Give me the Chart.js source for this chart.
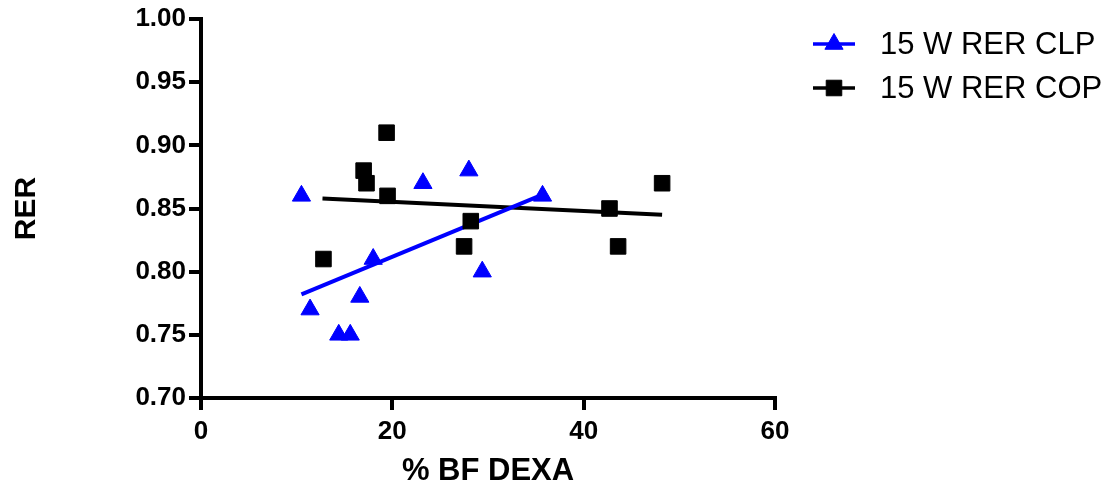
<!DOCTYPE html>
<html>
<head>
<meta charset="utf-8">
<script src="https://cdn.jsdelivr.net/npm/chart.js@4"></script>
<style>
  html, body { margin: 0; padding: 0; background: #fff; }
  #wrap { width: 1112px; height: 488px; position: relative; }
</style>
</head>
<body>
<div id="wrap"><canvas id="chart"></canvas></div>
<script>
// values
var clpX = [10.5, 11.4, 14.4, 15.6, 16.6, 18.0, 23.2, 28.0, 29.4, 35.7];
var clpY = [0.86, 0.77, 0.75, 0.75, 0.78, 0.81, 0.87, 0.88, 0.80, 0.86];
var copX = [12.8, 17.0, 17.3, 19.4, 19.5, 27.5, 28.2, 42.7, 43.6, 48.2];
var copY = [0.81, 0.88, 0.87, 0.91, 0.86, 0.82, 0.84, 0.85, 0.82, 0.87];

// fitted lines (ends as drawn)
var clpFitX = [10.5, 35.7];
var clpFitY = [0.782, 0.861];
var copFitX = [12.7, 48.2];
var copFitY = [0.858, 0.845];

var xTicks = [0, 20, 40, 60];
var yTicks = [0.70, 0.75, 0.80, 0.85, 0.90, 0.95, 1.00];

var seriesNames = ['15 W RER CLP', '15 W RER COP'];

function pts(xs, ys) {
	return xs.map(function(x, i) { return { x: x, y: ys[i] }; });
}

var legendPlugin = {
	id: 'sideLegend',
	afterDraw: function(chart) {
		var ctx = chart.ctx;
		var rows = [
			{ ds: chart.data.datasets[2], y: 44 },
			{ ds: chart.data.datasets[3], y: 88 }
		];
		ctx.save();
		rows.forEach(function(r) {
			ctx.strokeStyle = r.ds.borderColor;
			ctx.lineWidth = 3.5;
			ctx.beginPath();
			ctx.moveTo(813, r.y);
			ctx.lineTo(855, r.y);
			ctx.stroke();
			ctx.fillStyle = r.ds.backgroundColor;
			ctx.lineWidth = 1;
			Chart.helpers.drawPoint(ctx, {
				pointStyle: r.ds.pointStyle,
				radius: r.ds.pointRadius,
				borderWidth: 1
			}, 834, r.y);
			ctx.fillStyle = '#000';
			ctx.font = '31px "Liberation Sans", Arial, sans-serif';
			ctx.textBaseline = 'middle';
			ctx.textAlign = 'left';
			ctx.fillText(r.ds.label, 880, r.y + 1);
		});
		ctx.restore();
	}
};

new Chart(document.getElementById('chart'), {
	type: 'scatter',
	data: {
		datasets: [
			{
				label: 'fit CLP',
				data: pts(clpFitX, clpFitY),
				showLine: true,
				borderColor: '#0000FF',
				borderWidth: 4,
				pointRadius: 0,
				order: 2
			},
			{
				label: 'fit COP',
				data: pts(copFitX, copFitY),
				showLine: true,
				borderColor: '#000000',
				borderWidth: 4,
				pointRadius: 0,
				order: 2
			},
			{
				label: seriesNames[0],
				data: pts(clpX, clpY),
				pointStyle: 'triangle',
				pointRadius: 10.5,
				pointBorderWidth: 1,
				backgroundColor: '#0000FF',
				borderColor: '#0000FF',
				order: 1
			},
			{
				label: seriesNames[1],
				data: pts(copX, copY),
				pointStyle: 'rect',
				pointRadius: 11,
				pointBorderWidth: 1,
				backgroundColor: '#000000',
				borderColor: '#000000',
				order: 0
			}
		]
	},
	options: {
		responsive: true,
		maintainAspectRatio: false,
		animation: false,
		layout: {
			padding: { left: 0, top: 19, right: 337, bottom: 0 }
		},
		plugins: {
			legend: { display: false },
			tooltip: { enabled: false }
		},
		scales: {
			x: {
				type: 'linear',
				min: 0,
				max: 60,
				afterBuildTicks: function(scale) {
					scale.ticks = xTicks.map(function(v) { return { value: v }; });
				},
				afterFit: function(scale) { scale.height = 90; },
				grid: { drawOnChartArea: false, drawTicks: true, tickLength: 12, color: '#000', lineWidth: 4 },
				border: { display: true, color: '#000', width: 4 },
				ticks: {
					color: '#000',
					padding: 6,
					font: { family: '"Liberation Sans", Arial, sans-serif', size: 26, weight: 'bold' }
				},
				title: {
					display: true,
					text: '% BF DEXA',
					color: '#000',
					padding: { top: 0, bottom: 1 },
					font: { family: '"Liberation Sans", Arial, sans-serif', size: 31, weight: 'bold', lineHeight: 1 }
				}
			},
			y: {
				type: 'linear',
				min: 0.70,
				max: 1.00,
				afterBuildTicks: function(scale) {
					scale.ticks = yTicks.map(function(v) { return { value: v }; });
				},
				afterFit: function(scale) { scale.width = 201; },
				grid: { drawOnChartArea: false, drawTicks: true, tickLength: 12, color: '#000', lineWidth: 4 },
				border: { display: true, color: '#000', width: 4 },
				ticks: {
					color: '#000',
					padding: 3,
					callback: function(v) { return Number(v).toFixed(2); },
					font: { family: '"Liberation Sans", Arial, sans-serif', size: 26, weight: 'bold' }
				},
				title: {
					display: true,
					text: 'RER',
					color: '#000',
					padding: { top: 12, bottom: 0 },
					font: { family: '"Liberation Sans", Arial, sans-serif', size: 30, weight: 'bold', lineHeight: 1 }
				}
			}
		}
	},
	plugins: [legendPlugin]
});
</script>
</body>
</html>
